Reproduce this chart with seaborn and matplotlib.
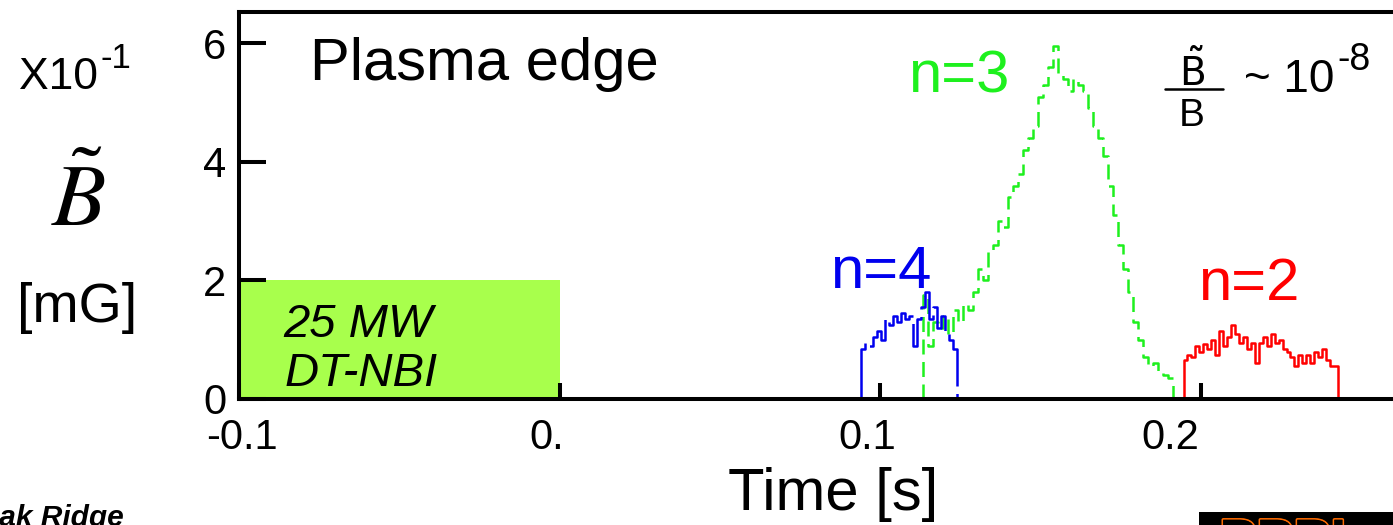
import numpy as np
import pandas as pd
import matplotlib
matplotlib.use("Agg")
import matplotlib.pyplot as plt
import matplotlib.patheffects as pe
from matplotlib.patches import Rectangle
from matplotlib.transforms import ScaledTranslation
import seaborn as sns

# Edge magnetic perturbation amplitude (x10^-1 mG) for each toroidal mode
n4_start, n4_step = 0.0942, 0.001248
n4_values = [0.85, 0.95, 0.9, 1.05, 1.15, 1.0, 1.35, 1.25, 1.4, 1.3, 1.45, 1.35,
             1.4, 0.9, 1.35, 1.55, 1.8, 1.35, 1.55, 1.2, 1.4, 1.1, 1.0, 0.85]

n3_start, n3_step = 0.1133, 0.00156
n3_values = [1.75, 0.9, 1.3, 1.2, 1.4, 1.1, 1.5, 1.3, 1.6, 1.5,
             1.8, 2.2, 2.0, 2.5, 2.6, 3.0, 2.9, 3.4, 3.6, 3.8,
             4.2, 4.4, 4.6, 5.1, 5.3, 5.6, 5.95, 5.5, 5.4, 5.2,
             5.4, 5.3, 5.2, 4.9, 4.6, 4.4, 4.1, 3.6, 3.1, 2.6,
             2.2, 1.8, 1.3, 1.0, 0.7, 0.55, 0.6, 0.45, 0.4, 0.35]

n2_start, n2_step = 0.1947, 0.001236
n2_values = [0.65, 0.75, 0.7, 0.9, 0.8, 0.92, 0.85, 1.0, 0.75, 1.15,
             0.9, 1.05, 1.25, 1.1, 0.95, 1.05, 0.85, 0.95, 0.6, 0.95,
             1.05, 0.9, 1.1, 0.95, 1.0, 0.85, 0.8, 0.7, 0.55, 0.75,
             0.6, 0.75, 0.6, 0.8, 0.7, 0.85, 0.65, 0.55, 0.55]

# Neutral beam heating window
nbi_start, nbi_end, nbi_level = -0.1, 0.0, 2.0

x_ticks = [-0.1, 0.0, 0.1, 0.2]
x_tick_labels = ["-0.1", "0.", "0.1", "0.2"]
x_label_shift_px = [3, -13, -13, -30]
y_ticks = [0, 2, 4, 6]
y_tick_labels = ["0", "2", "4", "6"]

sns.set_theme(style="ticks")
plt.rcParams["font.family"] = ["Liberation Sans", "DejaVu Sans"]
plt.rcParams["text.color"] = "black"
plt.rcParams["axes.labelcolor"] = "black"
plt.rcParams["xtick.color"] = "black"
plt.rcParams["ytick.color"] = "black"

W, H = 1393, 525
fig = plt.figure(figsize=(W / 100, H / 100), dpi=100)
ax = fig.add_axes([239 / W, 126 / H, (W - 239 + 30) / W, 387 / H])

px_per_s = 3205.0
ax.set_xlim(-0.1, -0.1 + (W - 239 + 30) / px_per_s)
ax.set_ylim(0, 387 / 59.3)


def trace(start, step, values):
    vals = list(values)
    n = len(vals)
    t = [start] + [start + k * step for k in range(n + 1)] + [start + n * step]
    y = [0.0] + vals + [vals[-1], 0.0]
    return pd.DataFrame({"time": t, "amp": y})


green = "#1ef01e"
blue = "#0000ee"
red = "#ff0000"

sns.lineplot(data=trace(n3_start, n3_step, n3_values), x="time", y="amp",
             drawstyle="steps-post", sort=False, estimator=None,
             color=green, linewidth=1.8, ax=ax)
ax.lines[-1].set_linestyle((0, (6, 3)))
sns.lineplot(data=trace(n4_start, n4_step, n4_values), x="time", y="amp",
             drawstyle="steps-post", sort=False, estimator=None,
             color=blue, linewidth=1.8, ax=ax)
ax.lines[-1].set_linestyle((0, (24, 3)))
sns.lineplot(data=trace(n2_start, n2_step, n2_values), x="time", y="amp",
             drawstyle="steps-post", sort=False, estimator=None,
             color=red, linewidth=1.8, ax=ax)

ax.add_patch(Rectangle((nbi_start, 0), nbi_end - nbi_start, nbi_level,
                       facecolor="#a8ff4c", edgecolor="none", zorder=0.5))

# Axes styling
for side in ["left", "top", "bottom"]:
    ax.spines[side].set_linewidth(2.9)
    ax.spines[side].set_color("black")
ax.spines["right"].set_visible(False)

ax.set_xticks(x_ticks)
ax.set_xticklabels(x_tick_labels)
ax.set_yticks(y_ticks)
ax.set_yticklabels(y_tick_labels)
ax.tick_params(axis="y", direction="in", length=19.5, width=2.9,
               labelsize=30, pad=9, colors="black")
ax.tick_params(axis="x", direction="in", length=11.5, width=2.9,
               labelsize=30, pad=14, colors="black")
for lab, dx in zip(ax.get_xticklabels(), x_label_shift_px):
    lab.set_transform(lab.get_transform()
                      + ScaledTranslation(dx / 100, 0, fig.dpi_scale_trans))
ax.set_xlabel("")
ax.set_ylabel("")

# Texts inside the plot
fig.text(310 / W, 1 - 64 / H, "Plasma edge", fontsize=43, ha="left", va="center")
fig.text(959 / W, 1 - 77 / H, "n=3", fontsize=43, color=green, ha="center", va="center")
fig.text(881 / W, 1 - 272 / H, "n=4", fontsize=43, color=blue, ha="center", va="center")
fig.text(1249 / W, 1 - 284 / H, "n=2", fontsize=43, color=red, ha="center", va="center")
fig.text(283 / W, 1 - 325 / H, "25 MW", fontsize=34, style="italic", ha="left", va="center")
fig.text(285 / W, 1 - 374 / H, "DT-NBI", fontsize=34, style="italic", ha="left", va="center")

# Relative amplitude note
fig.text(1192 / W, 1 - 72 / H, r"$\tilde{\mathrm{B}}$", fontsize=28, ha="center",
         va="center", math_fontfamily="dejavusans")
fig.add_artist(plt.Line2D([1165 / W, 1223 / W], [1 - 89 / H, 1 - 89 / H],
                          color="black", linewidth=1.8))
fig.text(1192 / W, 1 - 116 / H, "B", fontsize=28, ha="center", va="center")
fig.text(1244 / W, 1 - 80 / H, "~ 10", fontsize=33, ha="left", va="center")
fig.text(1337 / W, 1 - 60 / H, "-8", fontsize=27, ha="left", va="center")

# Y axis label block
fig.text(19 / W, 1 - 77 / H, "X10", fontsize=32, ha="left", va="center")
fig.text(100 / W, 1 - 58 / H, "-1", fontsize=25, ha="left", va="center")
fig.text(78 / W, 1 - 203 / H, r"$\tilde{B}$", fontsize=64, ha="center",
         va="center", math_fontfamily="stix")
fig.text(77 / W, 1 - 308 / H, "[mG]", fontsize=40, ha="center", va="center")

fig.text(833 / W, 1 - 494 / H, "Time [s]", fontsize=43, ha="center", va="center")

# Footer marks
fig.text(-24 / W, 1 - 526 / H, "Oak Ridge", fontsize=21.5, weight="bold",
         style="italic", ha="left", va="baseline")
fig.add_artist(Rectangle((1199 / W, 0), (W - 1199) / W, 13 / H,
                         transform=fig.transFigure, facecolor="black",
                         edgecolor="none"))
logo = fig.text(1292 / W, 1 - 518 / H, "PPPL", fontsize=40, weight="bold",
                color="black", ha="center", va="top")
logo.set_path_effects([pe.withStroke(linewidth=2.5, foreground="#ff6a00"),
                       pe.Normal()])

fig.savefig("out.png", dpi=100)
